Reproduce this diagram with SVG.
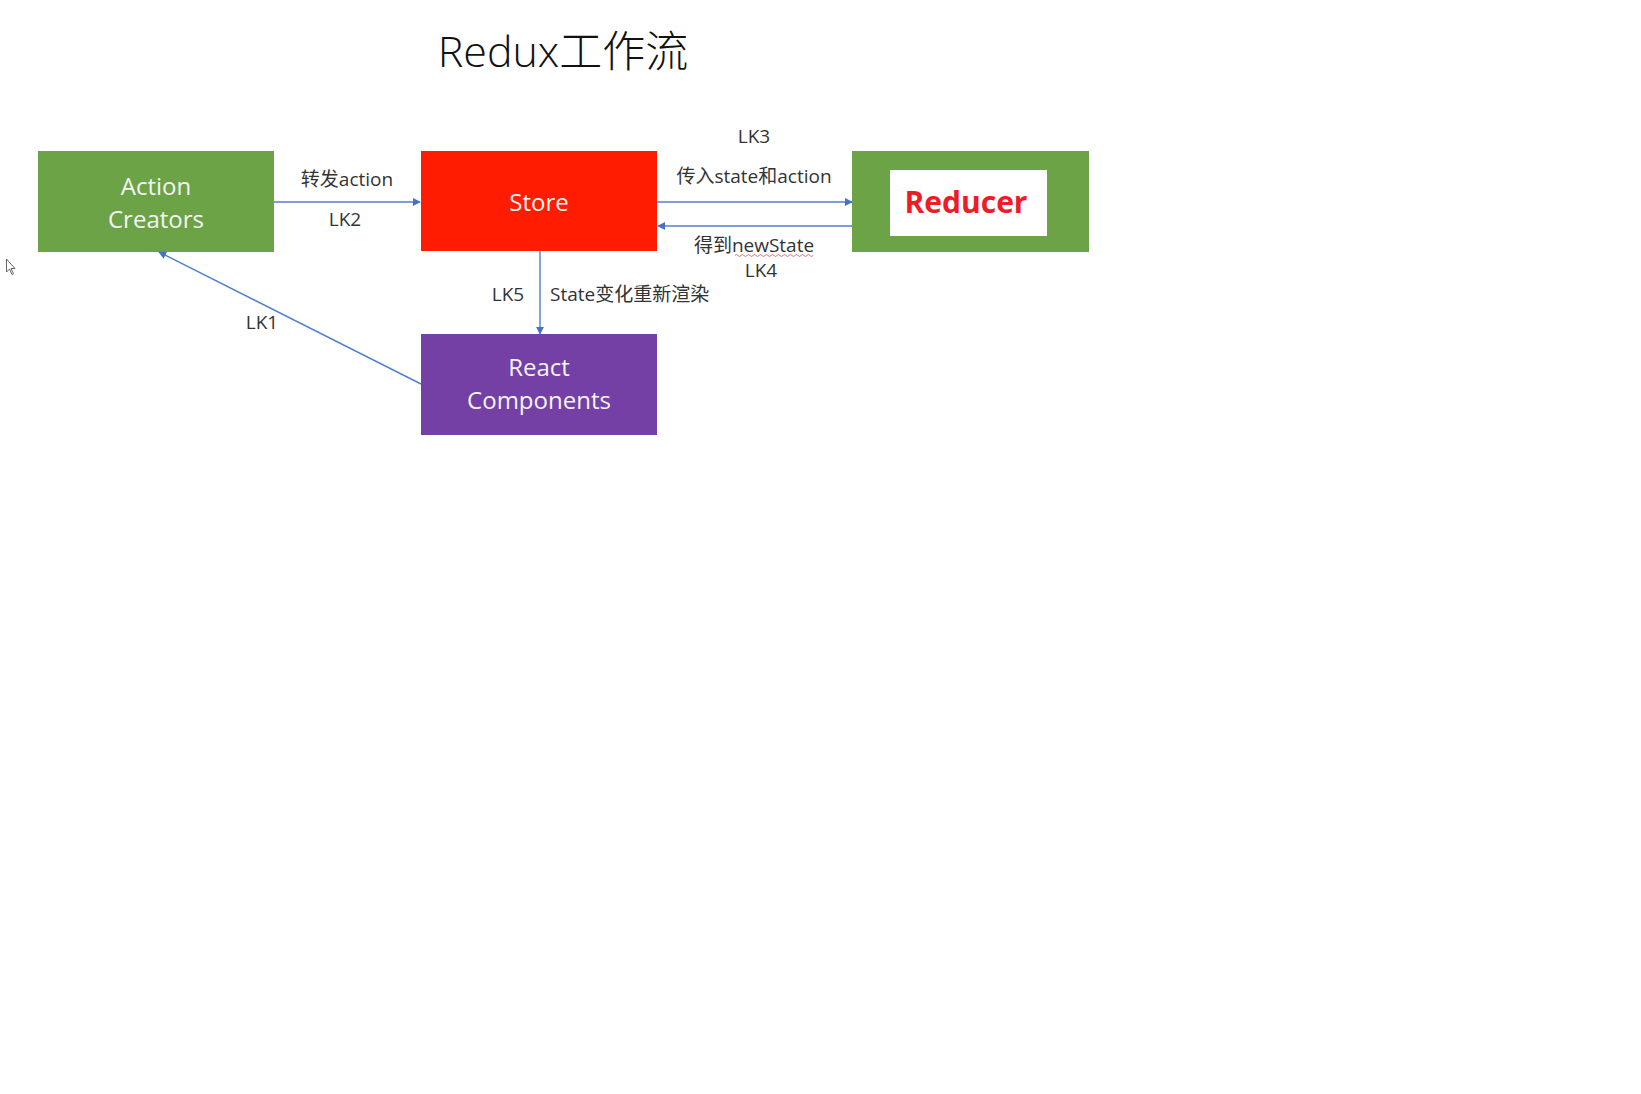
<svg xmlns="http://www.w3.org/2000/svg" width="1641" height="1094" viewBox="0 0 1641 1094">
<style>
text{font-family:"Open Sans","Noto Sans CJK SC",sans-serif}
.box text{fill:#f4f4f4;font-size:24px;text-anchor:middle}
.lbl{fill:#333;font-size:19px;text-anchor:middle}
.ln{stroke:#4f7fd0;stroke-width:1.4;fill:none;marker-end:url(#ah)}
</style>
<defs>
<marker id="ah" viewBox="0 0 10 10" refX="9" refY="5" markerWidth="8" markerHeight="8" markerUnits="userSpaceOnUse" orient="auto">
<path d="M0,0 L10,5 L0,10 z" fill="#4472c4"/>
</marker>
</defs>
<rect width="1641" height="1094" fill="#fff"/>
<text x="563" y="67" font-size="43" font-weight="300" fill="#111" text-anchor="middle">Redux工作流</text>
<g id="action-creators" class="box">
<rect x="38" y="151" width="236" height="101" fill="#6ca346"/>
<text x="156" y="195">Action</text>
<text x="156" y="228">Creators</text>
</g>
<g id="store" class="box">
<rect x="421" y="151" width="236" height="100" fill="#ff1c00"/>
<text x="539" y="211">Store</text>
</g>
<g id="reducer">
<rect x="852" y="151" width="237" height="101" fill="#6ca346"/>
<rect x="890" y="170" width="157" height="66" fill="#fff"/>
<text x="966" y="213" font-size="30" font-weight="bold" fill="#ee1c25" text-anchor="middle" style="font-family:'Open Sans','Liberation Sans',sans-serif">Reducer</text>
</g>
<g id="react-components" class="box">
<rect x="421" y="334" width="236" height="101" fill="#7440a6"/>
<text x="539" y="376">React</text>
<text x="539" y="409">Components</text>
</g>
<g id="connectors">
<line class="ln" x1="274" y1="202" x2="420" y2="202"/>
<line class="ln" x1="657" y1="202" x2="852" y2="202"/>
<line class="ln" x1="852" y1="226" x2="658" y2="226"/>
<line class="ln" x1="540" y1="251" x2="540" y2="334"/>
<line class="ln" x1="421" y1="384" x2="159" y2="252"/>
</g>
<g id="labels">
<text class="lbl" x="347" y="186">转发action</text>
<text class="lbl" x="345" y="226">LK2</text>
<text class="lbl" x="754" y="143">LK3</text>
<text class="lbl" x="754" y="183">传入state和action</text>
<text class="lbl" x="754" y="252">得到newState</text>
<path d="M735,255.5 q1.5,-2 3,0 t3,0 t3,0 t3,0 t3,0 t3,0 t3,0 t3,0 t3,0 t3,0 t3,0 t3,0 t3,0 t3,0 t3,0 t3,0 t3,0 t3,0 t3,0 t3,0 t3,0 t3,0 t3,0 t3,0 t3,0 t3,0" fill="none" stroke="#e05050" stroke-width="0.8"/>
<text class="lbl" x="761" y="277">LK4</text>
<text class="lbl" x="508" y="301">LK5</text>
<text class="lbl" x="550" y="301" style="text-anchor:start">State变化重新渲染</text>
<text class="lbl" x="262" y="329">LK1</text>
</g>
<path d="M6.5,259 L6.5,272 L9.5,269 L12,274.5 L13.5,273.8 L11,268.5 L15,268.5 z" fill="#fff" stroke="#555" stroke-width="0.9"/>
</svg>
